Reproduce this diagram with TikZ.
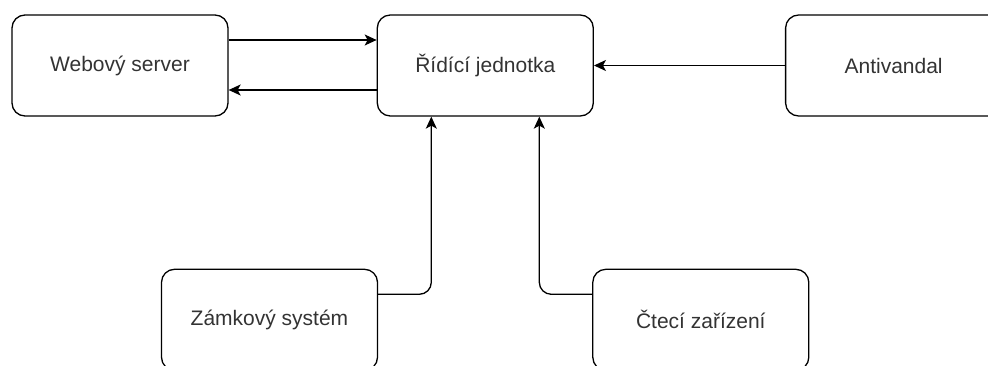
\documentclass[tikz,border=0pt]{standalone}
\usepackage{fontspec}
\setmainfont{Liberation Sans}
\usetikzlibrary{positioning,arrows.meta}
\definecolor{textgray}{HTML}{333333}
\begin{document}
\begin{tikzpicture}[->,>={Stealth[length=12pt,width=11pt,inset=3pt]},x=1pt,y=1pt,
                line width=1.3pt,b node/.style={draw,rounded corners=13pt,inner sep=0pt,
                minimum width=216pt,minimum height=101pt,text=textgray,
                font=\fontsize{21}{25}\selectfont}]

    \useasboundingbox (0,0) rectangle (988,365);

    \node[b node] (web) at (120,299.5) {Webový server};
    \node[b node] (ctrl) [right=148pt of web] {Řídící jednotka};
    \node[b node] (anti) [right=191pt of ctrl] {Antivandal};
    \node[b node] (lock) [below=152pt of web,xshift=149.5pt] {Zámkový systém};
    \node[b node] (reader) [below=152pt of ctrl,xshift=215.5pt] {Čtecí zařízení};

    \draw ([yshift=25.5pt]web.east) -- ([yshift=25.5pt]ctrl.west);
    \draw ([yshift=-24.5pt]ctrl.west) -- ([yshift=-24.5pt]web.east);
    \draw (anti) -- (ctrl);
    \draw[rounded corners=12pt] ([yshift=25.5pt]lock.east) -| ([xshift=-54pt]ctrl.south);
    \draw[rounded corners=12pt] ([yshift=25.5pt]reader.west) -| ([xshift=54pt]ctrl.south);

\end{tikzpicture}
\end{document}
